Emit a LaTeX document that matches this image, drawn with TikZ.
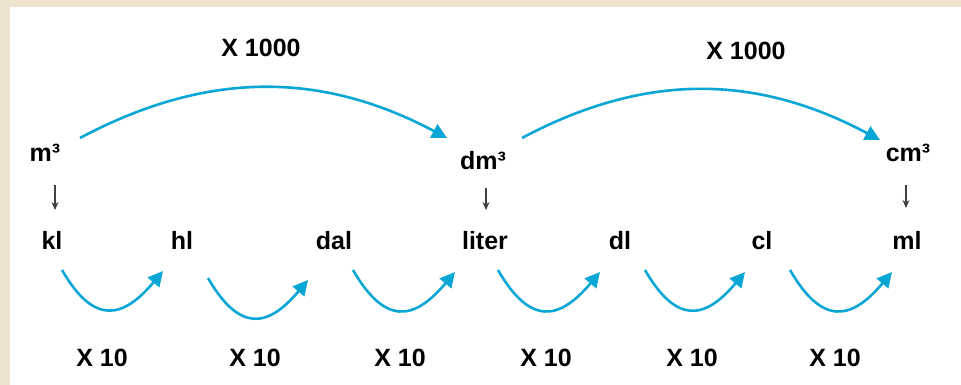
\documentclass[tikz,border=0pt]{standalone}
\usepackage{fontspec}
\setmainfont{Liberation Sans}
\usepackage{xcolor}
\usepackage{tikz}
\usetikzlibrary{arrows.meta}
\definecolor{beige}{RGB}{237,227,206}
\definecolor{arcblue}{RGB}{10,166,214}
\tikzset{
  unitnode/.style = {font=\bfseries\fontsize{25}{29}\selectfont, anchor=base,
    inner sep=0pt},
  vol_n/.style = {unitnode},% eenheid van volume
  fac_n/.style = {unitnode},% factor
  arc_b/.style = {arcblue, line width=2.6pt,
    -{Triangle[length=15pt,width=15pt]}},% grote boog, x 1000
  arc_s/.style = {arc_b, out=-60, in=-130, looseness=1.6},% kleine boog, x 10
  dwn/.style = {black!75, line width=1.3pt,
    -{Stealth[length=8pt,width=7pt]}}% pijl omlaag
}

\begin{document}
\begin{tikzpicture}[x=1pt,y=1pt]
\useasboundingbox (0,0) rectangle (961,385);
\fill [beige] (0,0) rectangle (961,385);
\fill [white] (10,0) rectangle (961,378);
% kubieke eenheden
\node [vol_n] (m3) at (45,223) {m³};
\node [vol_n] (dm3) at (483,215) {dm³};
\node [vol_n] (cm3) at (908,223) {cm³};
% liters
\node [vol_n] (kl) at (52,135) {kl};
\node [vol_n] (hl) at (182,135) {hl};
\node [vol_n] (dal) at (334,135) {dal};
\node [vol_n] (liter) at (485,135) {liter};
\node [vol_n] (dl) at (620,135) {dl};
\node [vol_n] (cl) at (762,135) {cl};
\node [vol_n] (ml) at (907,135) {ml};
% factoren
\node [fac_n] (f1000a) at (261,328) {X 1000};
\node [fac_n] (f1000b) at (746,325) {X 1000};
\node [fac_n] (f10a) at (102,18) {X 10};
\node [fac_n] (f10b) at (255,18) {X 10};
\node [fac_n] (f10c) at (400,18) {X 10};
\node [fac_n] (f10d) at (546,18) {X 10};
\node [fac_n] (f10e) at (692,18) {X 10};
\node [fac_n] (f10f) at (835,18) {X 10};
% bogen
\draw [arc_b] ([shift={(35,24)}]m3.base) to[out=28,in=152]
  ([shift={(-36,32)}]dm3.base);
\draw [arc_b] ([shift={(39,32)}]dm3.base) to[out=28,in=152]
  ([shift={(-28,22)}]cm3.base);
\draw [arc_s] ([shift={(10,-20)}]kl.base) to ([shift={(-19,-21)}]hl.base);
\draw [arc_s] ([shift={(26,-28)}]hl.base) to ([shift={(-26,-30)}]dal.base);
\draw [arc_s] ([shift={(19,-20)}]dal.base) to ([shift={(-30,-22)}]liter.base);
\draw [arc_s] ([shift={(13,-20)}]liter.base) to ([shift={(-20,-22)}]dl.base);
\draw [arc_s] ([shift={(25,-20)}]dl.base) to ([shift={(-17,-22)}]cl.base);
\draw [arc_s] ([shift={(28,-20)}]cl.base) to ([shift={(-15,-22)}]ml.base);
% pijlen omlaag
\draw [dwn] ([shift={(10,-23)}]m3.base) -- ([shift={(3,40)}]kl.base);
\draw [dwn] ([shift={(3,-18)}]dm3.base) -- ([shift={(1,40)}]liter.base);
\draw [dwn] ([shift={(-2,-23)}]cm3.base) -- ([shift={(-1,42)}]ml.base);
\end{tikzpicture}
\end{document}
